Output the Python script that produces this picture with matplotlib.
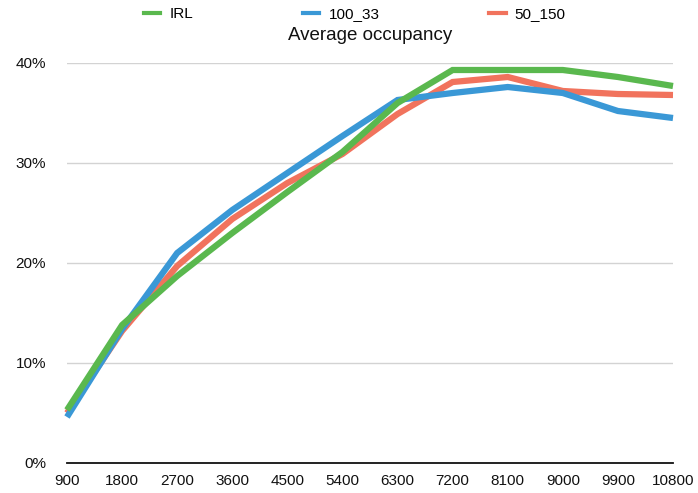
import matplotlib
matplotlib.use("Agg")
import matplotlib.pyplot as plt
from matplotlib.ticker import FuncFormatter
from matplotlib.lines import Line2D

plt.rcParams['font.family'] = ['Liberation Sans', 'DejaVu Sans']

categories = ["900", "1800", "2700", "3600", "4500", "5400", "6300",
              "7200", "8100", "9000", "9900", "10800"]
irl = [5.3, 13.8, 18.7, 23.0, 27.1, 31.1, 36.0, 39.3, 39.3, 39.3, 38.6, 37.7]
s100_33 = [4.6, 13.4, 21.0, 25.3, 29.0, 32.7, 36.3, 37.0, 37.6, 37.0, 35.2, 34.5]
s50_150 = [5.0, 13.2, 19.7, 24.4, 28.0, 30.9, 34.9, 38.1, 38.6, 37.2, 36.9, 36.8]
series_names = ["IRL", "100_33", "50_150"]
colors = {"IRL": "#5ab84e", "100_33": "#3a98d6", "50_150": "#f1735d"}
yticks = [0, 10, 20, 30, 40]
title = "Average occupancy"

W, H = 698, 493
fig = plt.figure(figsize=(W / 100, H / 100), dpi=100)
ax = fig.add_axes([67 / W, 1 - 463 / H, (673 - 67) / W, (463 - 63) / H])

x = list(range(len(categories)))
lw = 4.5
kw = dict(lw=lw, solid_joinstyle='miter', solid_capstyle='butt', clip_on=False)
ax.plot(x, s50_150, color=colors["50_150"], zorder=3, **kw)
ax.plot(x, s100_33, color=colors["100_33"], zorder=4, **kw)
ax.plot(x, irl, color=colors["IRL"], zorder=5, **kw)

ax.set_xlim(0, len(categories) - 1)
ax.set_ylim(0, 40)
ax.set_xticks(x)
ax.set_xticklabels(categories)
ax.set_yticks(yticks)
ax.yaxis.set_major_formatter(FuncFormatter(lambda v, p: f"{int(v)}%"))
ax.tick_params(axis='both', length=0, labelsize=11, colors='#111111')
ax.tick_params(axis='y', pad=15)
ax.tick_params(axis='x', pad=8)

for s in ['top', 'right', 'left']:
    ax.spines[s].set_visible(False)
ax.spines['bottom'].set_color('#111111')
ax.spines['bottom'].set_linewidth(1.3)
ax.spines['bottom'].set_zorder(6)

ax.yaxis.grid(True, color='#d3d3d3', lw=1.0)
ax.set_axisbelow(True)

fig.text(370 / W, 1 - 35 / H, title, ha='center', va='center', fontsize=13.5, color='#111111')

handles = [Line2D([0], [0], color=colors[n], lw=3) for n in series_names]
fig.legend(handles, series_names, loc='center', bbox_to_anchor=(355 / W, 1 - 14 / H),
           ncol=3, frameon=False, fontsize=11, handlelength=1.05, handletextpad=0.6,
           columnspacing=7.2, borderaxespad=0, borderpad=0)

fig.savefig("out.png", dpi=100)
